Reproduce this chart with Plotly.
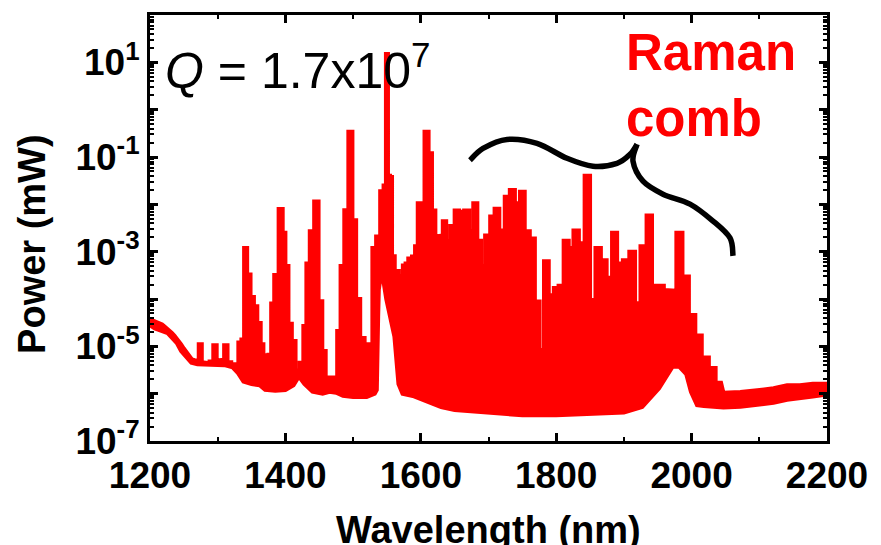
import plotly.graph_objects as go

# ---------------- data ----------------
# upper outline of the measured spectrum (wavelength in nm, power in mW)
upper_wl = [1200, 1204, 1209, 1213, 1218, 1222, 1227, 1232, 1236, 1241, 1246, 1250, 1254, 1258, 1262,
            1266, 1270, 1274, 1279, 1285, 1291,
            1296, 1301, 1307, 1312, 1317, 1323, 1328, 1333, 1337, 1341, 1346, 1351, 1356, 1361, 1366,
            1369, 1373, 1377, 1381, 1386, 1394, 1398, 1402, 1407, 1412, 1418, 1424, 1429, 1433, 1439,
            1446, 1452, 1457, 1462, 1468, 1474, 1479, 1484, 1490, 1496, 1502, 1507, 1514, 1520, 1526,
            1531, 1537, 1543, 1547, 1550, 1553, 1556, 1559, 1564, 1571, 1576, 1579, 1584, 1590, 1593,
            1598, 1602, 1609, 1614, 1619, 1624, 1630, 1635, 1640, 1647, 1653, 1660, 1668, 1675, 1680,
            1687, 1691, 1699, 1706, 1712, 1720, 1728, 1735, 1743, 1750, 1757, 1765, 1772, 1779, 1785,
            1793, 1800, 1807, 1815, 1822, 1829, 1838, 1846, 1854, 1862, 1870, 1879, 1886, 1894, 1903,
            1913, 1920, 1929, 1938, 1945, 1954, 1964, 1973, 1982, 1991, 2001, 2010, 2020, 2031, 2040,
            2047, 2072, 2097, 2121, 2141, 2160, 2179, 2200]
upper_mw = [3.7e-5, 3.5e-5, 3.3e-5, 3.1e-5, 2.9e-5, 2.6e-5, 2.3e-5, 1.95e-5, 1.7e-5, 1.4e-5, 1.1e-5, 9e-6, 7.4e-6, 6.2e-6, 5.3e-6,
            5.1e-6, 5e-6, 1.1e-5, 4.6e-6, 4.4e-6, 4.8e-6,
            1.05e-5, 5e-6, 5.2e-6, 1.05e-5, 4.6e-6, 4.2e-6, 3.4e-6, 1.2e-5, 1.4e-5, 1.2e-3, 3.3e-4, 1.1e-4, 7e-5, 3.1e-5, 1.1e-5,
            6.5e-6, 1.8e-6, 6.6e-6, 8e-5, 3.2e-4, 8e-3, 2.5e-3, 5e-4, 3e-5, 1.3e-5, 3.1e-6, 4.5e-6, 2.7e-5, 5.6e-4, 2.7e-3,
            1.15e-2, 9e-5, 8e-6, 2e-6, 2.2e-6, 2e-6, 2.1e-5, 5e-4, 7.5e-3, 0.34, 4.6e-3, 1e-4, 1.5e-5, 1.1e-5, 1.1e-5,
            1.2e-3, 2.1e-3, 1.9e-2, 2.5e-2, 15, 4e-2, 3.8e-2, 8e-4, 3.9e-4, 3e-4, 5.1e-4, 5.6e-4, 7.2e-4, 7.9e-4, 1.3e-3,
            1.05e-2, 8.1e-3, 0.34, 0.12, 7.4e-3, 2.1e-3, 2.2e-3, 4.4e-3, 1.65e-3, 3.5e-3, 7.4e-3, 7e-3, 7.4e-3, 2.7e-3, 1.05e-2,
            1.7e-3, 4.9e-4, 2.2e-3, 5.5e-3, 8.1e-3, 2.8e-3, 1.45e-2, 2e-2, 1.05e-2, 1.85e-2, 2.7e-3, 1.9e-3, 8.9e-5, 8.4e-6, 6.3e-4,
            1.2e-4, 1.7e-4, 1.9e-4, 1.7e-3, 1.2e-3, 2.8e-3, 1.5e-3, 4e-2, 9.5e-5, 1.2e-3, 6.6e-4, 2.8e-4, 2.5e-3, 5.6e-4, 6.6e-4,
            1e-3, 8.1e-5, 1.3e-3, 5.8e-3, 1.9e-4, 1.9e-4, 1.55e-4, 1.5e-4, 2.5e-3, 3e-4, 4.6e-5, 1.7e-5, 5.8e-6, 3.5e-6, 1.7e-6,
            1.05e-6, 1.08e-6, 1.18e-6, 1.3e-6, 1.5e-6, 1.5e-6, 1.62e-6, 1.62e-6]

# lower outline (noise floor) of the spectrum
lower_wl = [1200, 1207, 1226, 1240, 1246, 1261, 1270, 1290, 1310, 1322, 1330, 1338, 1350, 1362, 1370,
            1385, 1400, 1412, 1420, 1428, 1440, 1455, 1465, 1475, 1485, 1500, 1520, 1532, 1535, 1537,
            1538, 1541, 1545, 1549, 1555, 1561, 1567, 1573, 1590, 1610, 1630, 1650, 1700, 1750, 1800,
            1850, 1900, 1927, 1942, 1952, 1962, 1972, 1982, 1992, 1999, 2008, 2018, 2033, 2047, 2072,
            2097, 2121, 2141, 2160, 2179, 2200]
lower_mw = [2.75e-5, 2.4e-5, 1.9e-5, 1.15e-5, 7.9e-6, 4.5e-6, 4.2e-6, 4e-6, 4e-6, 3.6e-6, 2.7e-6, 1.8e-6, 1.6e-6, 1.5e-6, 1.2e-6,
            1.15e-6, 1.2e-6, 1.5e-6, 2.3e-6, 1.6e-6, 1.1e-6, 1e-6, 1.1e-6, 1.05e-6, 9e-7, 8.5e-7, 8.5e-7, 1e-6, 1.2e-6, 4.2e-5,
            1.6e-4, 3.1e-4, 2.3e-4, 9.9e-5, 4.2e-5, 1.6e-5, 1.6e-6, 1e-6, 8.8e-7, 6.6e-7, 5.2e-7, 4.5e-7, 3.9e-7, 3.5e-7, 3.5e-7,
            3.7e-7, 4e-7, 5.2e-7, 8.8e-7, 1.3e-6, 2.2e-6, 3.7e-6, 3.7e-6, 2.6e-6, 1.1e-6, 5.7e-7, 5.5e-7, 5.2e-7, 5.1e-7, 5.3e-7,
            5.8e-7, 6.4e-7, 7.4e-7, 8.2e-7, 8.7e-7, 9.6e-7]

x_tickvals = [1200, 1400, 1600, 1800, 2000, 2200]
y_exponents = [-7, -6, -5, -4, -3, -2, -1, 0, 1, 2]
y_labelled = [-7, -5, -3, -1, 1]

q_label = "<i>Q</i> = 1.7x10<sup>7</sup>"
comb_label = "Raman<br>comb"
x_title = "Wavelength (nm)"
y_title = "Power (mW)"

# ---------------- layout geometry ----------------
W, H = 881, 545
L, R, T, B = 150, 54, 13, 104
PW, PH = W - L - R, H - T - B
RED = "#ff0000"
FONT = "Liberation Sans"
SMOOTH_BELOW, SMOOTH_ABOVE = 1268, 2042   # smooth noise-floor parts drawn without steps


def px2paper(x, y):
    return (x - L) / PW, (H - B - y) / PH


def stepped_outline(wl, mw):
    """Each comb line / peak is drawn as a flat-topped step; smooth floor parts stay linear."""
    xs, ys = [], []
    n = len(wl)
    for i, (w, v) in enumerate(zip(wl, mw)):
        if w <= SMOOTH_BELOW or w >= SMOOTH_ABOVE or i == 0 or i == n - 1:
            xs.append(w)
            ys.append(v)
        else:
            xs += [(wl[i - 1] + w) / 2, (w + wl[i + 1]) / 2]
            ys += [v, v]
    return xs, ys


up_x, up_y = stepped_outline(upper_wl, upper_mw)

y_tickvals = [10.0 ** e for e in y_exponents]
y_ticktext = ["10<sup>%d</sup>" % e if e in y_labelled else "" for e in y_exponents]
y_minor = [m * 10.0 ** e for e in y_exponents[:-1] for m in range(2, 10)]

fig = go.Figure()
fig.add_trace(go.Scatter(x=lower_wl, y=lower_mw, mode="lines",
                         line=dict(color=RED, width=4), hoverinfo="skip", showlegend=False))
fig.add_trace(go.Scatter(x=up_x, y=up_y, mode="lines", fill="tonexty", fillcolor=RED,
                         line=dict(color=RED, width=4), hoverinfo="skip", showlegend=False))

axis_common = dict(showline=True, linecolor="black", linewidth=3, mirror="allticks",
                   ticks="inside", tickcolor="black", showgrid=False, zeroline=False,
                   tickfont=dict(family=FONT, size=37, color="black", weight="bold"))

fig.update_xaxes(range=[1200, 2200], tickvals=x_tickvals, ticklen=8, tickwidth=2.5,
                 minor=dict(dtick=100, tick0=1200, ticks="inside", ticklen=4, tickwidth=2, tickcolor="black"),
                 **axis_common)
fig.update_yaxes(type="log", range=[-7, 2], tickvals=y_tickvals, ticktext=y_ticktext,
                 ticklen=8, tickwidth=2.5,
                 minor=dict(tickmode="array", tickvals=y_minor, ticks="inside", ticklen=4, tickwidth=1.5,
                            tickcolor="black"),
                 **axis_common)

# curly brace over the Raman comb (pixel guide points of the drawing)
brace_px = [(470, 159), (483, 147), (507, 138), (537, 142), (567, 157), (593, 165), (617, 162),
            (630, 153), (637, 143)]
brace2_px = [(637, 143), (633, 160), (643, 180), (663, 193), (690, 203), (713, 220), (730, 237), (733, 255)]


def smooth_path(pts):
    P = [px2paper(*p) for p in pts]
    d = "M %.5f,%.5f" % P[0]
    for i in range(len(P) - 1):
        p0 = P[i - 1] if i > 0 else P[i]
        p1, p2 = P[i], P[i + 1]
        p3 = P[i + 2] if i + 2 < len(P) else P[i + 1]
        c1 = (p1[0] + (p2[0] - p0[0]) / 6, p1[1] + (p2[1] - p0[1]) / 6)
        c2 = (p2[0] - (p3[0] - p1[0]) / 6, p2[1] - (p3[1] - p1[1]) / 6)
        d += " C %.5f,%.5f %.5f,%.5f %.5f,%.5f" % (c1[0], c1[1], c2[0], c2[1], p2[0], p2[1])
    return d


for pts in (brace_px, brace2_px):
    fig.add_shape(type="path", xref="paper", yref="paper", path=smooth_path(pts),
                  line=dict(color="black", width=5.5))

qx, qy = px2paper(163, 65)
cx, cy = px2paper(624, 84)
tx, ty = px2paper(488, 530)
yx, yy = px2paper(32, 243)
annotations = [
    dict(text=q_label, x=qx, y=qy, xanchor="left", yanchor="middle",
         font=dict(family=FONT, size=50, color="black")),
    dict(text=comb_label, x=cx, y=cy, xanchor="left", yanchor="middle", align="left",
         font=dict(family=FONT, size=51, color=RED, weight="bold")),
    dict(text=x_title, x=tx, y=ty, xanchor="center", yanchor="middle",
         font=dict(family=FONT, size=38, color="black", weight="bold")),
    dict(text=y_title, x=yx, y=yy, xanchor="center", yanchor="middle", textangle=-90,
         font=dict(family=FONT, size=38, color="black", weight="bold")),
]
for a in annotations:
    a.update(xref="paper", yref="paper", showarrow=False)

fig.update_layout(width=W, height=H, margin=dict(l=L, r=R, t=T, b=B),
                  paper_bgcolor="white", plot_bgcolor="white", annotations=annotations,
                  showlegend=False)

fig.write_html("out.html")
